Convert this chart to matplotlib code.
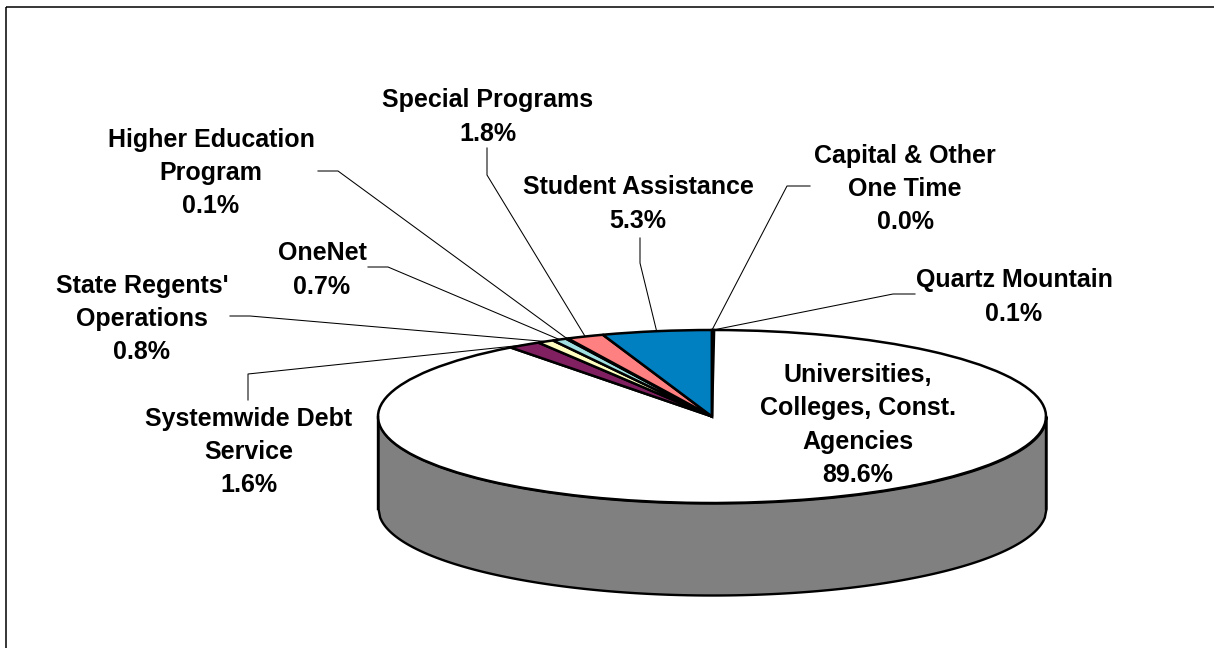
import numpy as np
import matplotlib
matplotlib.use('Agg')
import matplotlib.pyplot as plt
from matplotlib.patches import Rectangle

plt.rcParams['font.family'] = ['Liberation Sans', 'DejaVu Sans']

# clockwise from 12 o'clock
names = ['Quartz Mountain', 'Universities,\nColleges, Const.\nAgencies', 'Systemwide Debt\nService',
         "State Regents'\nOperations", 'OneNet', 'Higher Education\nProgram', 'Special Programs',
         'Student Assistance', 'Capital & Other\nOne Time']
shares = [0.1, 89.6, 1.6, 0.8, 0.7, 0.1, 1.8, 5.3, 0.0]
colors = ['#000080', '#ffffff', '#802060', '#ffffc0', '#a0e0e0', '#600080', '#ff8080', '#0080c0', '#c0c0ff']

# label centre in pixels, None for leader means label sits on the slice
label_pos = [(1014, 297), (858, 425), (249, 452), (142, 319), (322, 270), (211, 173), (488, 117), (638, 204), (905, 189)]
leaders = [[(915, 294), (893, 294)], None, [(248, 400), (248, 374)], [(230, 316), (250, 316)],
           [(368, 267), (388, 267)], [(318, 171), (338, 171)], [(487, 148), (487, 175)],
           [(640, 238), (640, 263)], [(810, 186), (787, 186)]]

W, H = 1214, 648
cx, cy, rx, ry = 712, 416.5, 334, 86.5
depth = 92 / ry


def px(x, y):
    return (x - cx) / rx, (cy - y) / ry


fig = plt.figure(figsize=(W / 100, H / 100), dpi=100)
ax = fig.add_axes([0, 0, 1, 1])

# side wall of the disc
xs = np.linspace(-1, 1, 400)
rim = -np.sqrt(1 - xs ** 2)
ax.fill_between(xs, rim, rim - depth, facecolor='#808080', edgecolor='black', linewidth=1.7)
ax.plot([-1, -1], [0, -depth], color='black', lw=1.7)
ax.plot([1, 1], [0, -depth], color='black', lw=1.7)

ax.pie(shares, colors=colors, startangle=90, counterclock=False, radius=1,
       wedgeprops={'edgecolor': 'black', 'linewidth': 1.8, 'joinstyle': 'miter'})
ax.set_aspect('auto')
ax.set_xlim(-cx / rx, (W - cx) / rx)
ax.set_ylim((cy - H) / ry, cy / ry)
ax.axis('off')

# chart frame, runs off the right and bottom of the canvas
ax.add_patch(Rectangle(px(6, 7), (W + 20) / rx, -(H + 20) / ry, fill=False, edgecolor='black', lw=1.1, clip_on=True))

cum = np.cumsum([0] + shares[:-1])
for i, name in enumerate(names):
    mid = np.deg2rad((cum[i] + shares[i] / 2) * 3.6)
    if leaders[i] is not None:
        pts = [px(*p) for p in leaders[i]] + [(np.sin(mid), np.cos(mid))]
        ax.plot([p[0] for p in pts], [p[1] for p in pts], color='black', lw=0.75, zorder=5)
    lx, ly = px(*label_pos[i])
    ax.text(lx, ly, f'{name}\n{shares[i]:.1f}%', ha='center', va='center', multialignment='center',
            fontsize=18, fontweight='bold', linespacing=1.48, zorder=6)

plt.savefig('out.png', dpi=100)
